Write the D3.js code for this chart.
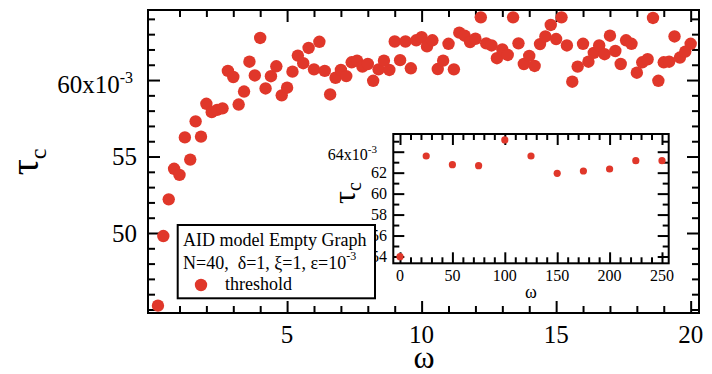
<!DOCTYPE html>
<html><head><meta charset="utf-8">
<script src="https://cdn.jsdelivr.net/npm/d3@7"></script>
<style>
body{margin:0;background:#fff}
svg{display:block}
text{font-family:"Liberation Serif","Times New Roman",serif;fill:#000}
</style>
</head><body>
<svg id="chart" width="712" height="374"></svg>
<script>
// ---- main series: omega vs tau_c (values in units of 1e-3) ----
const omega = [0.2,0.4,0.6,0.8,1.0,1.2,1.4,1.6,1.8,2.0,2.2,2.4,2.6,2.8,3.0,3.2,3.4,3.6,3.8,4.0,
  4.2,4.4,4.6,4.8,5.0,5.2,5.4,5.6,5.8,6.0,6.2,6.4,6.6,6.8,7.0,7.2,7.4,7.6,7.8,8.0,
  8.2,8.4,8.6,8.8,9.0,9.2,9.4,9.6,9.8,10.0,10.2,10.4,10.6,10.8,11.0,11.2,11.4,11.6,11.8,12.0,
  12.2,12.4,12.6,12.8,13.0,13.2,13.4,13.6,13.8,14.0,14.2,14.4,14.6,14.8,15.0,15.2,15.4,15.6,15.8,16.0,
  16.2,16.4,16.6,16.8,17.0,17.2,17.4,17.6,17.8,18.0,18.2,18.4,18.6,18.8,19.0,19.2,19.4,19.6,19.8,20.0];
const tau = [45.25,49.8,52.2,54.2,53.8,56.25,54.8,57.3,56.3,58.45,57.9,58.05,58.15,60.6,60.2,58.4,59.25,61.2,60.3,62.75,
  59.45,60.25,60.9,59.0,59.5,60.55,61.6,61.1,62.1,60.7,62.5,60.6,59.06,60.15,60.66,60.26,61.16,61.27,60.88,61.05,
  59.95,60.7,61.27,60.66,62.52,61.3,62.52,60.77,62.6,62.8,62.2,62.6,60.72,61.27,62.37,60.7,63.1,62.9,62.48,62.7,
  64.1,62.4,62.26,61.43,62.0,61.64,64.1,62.4,61.05,61.58,60.92,62.35,62.85,63.6,62.68,64.1,62.26,59.89,60.88,62.37,
  61.2,61.78,62.26,61.69,62.9,61.9,61.05,62.6,62.37,60.48,61.16,61.36,64.06,59.95,61.16,61.2,62.85,61.47,61.86,62.37];

// ---- inset series ----
const insetOmega = [0,25,50,75,100,125,150,175,200,225,250];
const insetTau = [53.98,63.59,62.76,62.67,65.12,63.59,61.94,62.16,62.35,63.14,63.14];

// ---- ticks ----
const mainXMajor = [5,10,15,20];
const mainXMinor = [1,2,3,4,6,7,8,9,11,12,13,14,16,17,18,19];
const mainXLabels = ["5","10","15","20"];
const mainYMajor = [50,55,60];
const mainYMinor = [45,46,47,48,49,51,52,53,54,56,57,58,59,61,62,63,64];
const mainYLabels = ["50","55","60x10"];
const insetXMajor = [0,50,100,150,200,250];
const insetXMinor = [10,20,30,40,60,70,80,90,110,120,130,140,160,170,180,190,210,220,230,240];
const insetXLabels = ["0","50","100","150","200","250"];
const insetYMajor = [54,56,58,60,62,64];
const insetYMinor = [55,57,59,61,63,65];
const insetYLabels = ["54","56","58","60","62","64x10"];

const legendLines = ["AID model Empty Graph", "N=40,  \u03b4=1, \u03be=1, \u03b5=10"];
const seriesName = "threshold";
const red = "#e0372a";

const svg = d3.select("#chart");

// ---- main scales ----
const L = 148, R = 699, T = 10, B = 313;
const x = d3.scaleLinear().domain([-0.17, 20.31]).range([L, R]);
const y = d3.scaleLinear().domain([44.77, 64.58]).range([B, T]);

function drawTicks(g, xs, ys, xMaj, xMin, yMaj, yMin, l, r, t, b, majLen, minLen) {
  const mk = (axisFn, scale, vals, len, tr) => {
    g.append("g").attr("transform", tr)
      .call(axisFn(scale).tickValues(vals).tickSize(len).tickFormat(""))
      .call(s => s.select(".domain").remove())
      .call(s => s.selectAll("line").attr("stroke", "#000").attr("stroke-width", 2));
  };
  mk(d3.axisBottom, xs, xMaj, -majLen, `translate(0,${b})`);
  mk(d3.axisBottom, xs, xMin, -minLen, `translate(0,${b})`);
  mk(d3.axisTop, xs, xMaj, -majLen, `translate(0,${t})`);
  mk(d3.axisTop, xs, xMin, -minLen, `translate(0,${t})`);
  mk(d3.axisLeft, ys, yMaj, -majLen, `translate(${l},0)`);
  mk(d3.axisLeft, ys, yMin, -minLen, `translate(${l},0)`);
  mk(d3.axisRight, ys, yMaj, -majLen, `translate(${r},0)`);
  mk(d3.axisRight, ys, yMin, -minLen, `translate(${r},0)`);
}

const main = svg.append("g");
drawTicks(main, x, y, mainXMajor, mainXMinor, mainYMajor, mainYMinor, L, R, T, B, 12, 7);
main.append("rect").attr("x", L).attr("y", T).attr("width", R - L).attr("height", B - T)
  .attr("fill", "none").attr("stroke", "#000").attr("stroke-width", 2);

// main points
main.append("g").selectAll("circle").data(omega).join("circle")
  .attr("cx", d => x(d)).attr("cy", (d, i) => y(tau[i])).attr("r", 6.2).attr("fill", red);

// main x tick labels
main.append("g").selectAll("text").data(mainXMajor).join("text")
  .attr("x", d => x(d)).attr("y", 343).attr("text-anchor", "middle")
  .attr("font-size", 25).text((d, i) => mainXLabels[i]);
// main y tick labels
const myl = main.append("g").selectAll("text").data(mainYMajor).join("text")
  .attr("x", 137).attr("y", d => y(d) + 8.5).attr("text-anchor", "end").attr("font-size", 25);
myl.each(function(d, i) {
  const t = d3.select(this);
  t.append("tspan").text(mainYLabels[i]);
  if (i === mainYLabels.length - 1) {
    t.attr("x", 133).attr("y", y(d) + 13);
    t.append("tspan").attr("dy", -10).attr("font-size", 16).text("-3");
  }
});

// axis titles
main.append("text").attr("x", 424).attr("y", 368).attr("text-anchor", "middle")
  .attr("font-size", 32).text("\u03c9");
const yt = main.append("text").attr("transform", "translate(38,162) rotate(-90)")
  .attr("text-anchor", "middle").attr("font-size", 40);
yt.append("tspan").text("\u03c4");
yt.append("tspan").attr("dy", 8).attr("font-size", 24).text("c");

// ---- inset ----
const iL = 393.3, iR = 668.7, iT = 134, iB = 263.3;
const xi = d3.scaleLinear().domain([-6.4, 256.4]).range([iL, iR]);
const yi = d3.scaleLinear().domain([53.35, 65.69]).range([iB, iT]);
const inset = svg.append("g");
inset.append("rect").attr("x", iL).attr("y", iT).attr("width", iR - iL).attr("height", iB - iT)
  .attr("fill", "#fff");
drawTicks(inset, xi, yi, insetXMajor, insetXMinor, insetYMajor, insetYMinor, iL, iR, iT, iB, 11, 6);
inset.append("rect").attr("x", iL).attr("y", iT).attr("width", iR - iL).attr("height", iB - iT)
  .attr("fill", "none").attr("stroke", "#000").attr("stroke-width", 2);
inset.append("g").selectAll("circle").data(insetOmega).join("circle")
  .attr("cx", d => xi(d)).attr("cy", (d, i) => yi(insetTau[i])).attr("r", 3.6).attr("fill", red);
inset.append("g").selectAll("text").data(insetXMajor).join("text")
  .attr("x", d => xi(d)).attr("y", 281).attr("text-anchor", "middle")
  .attr("font-size", 16).text((d, i) => insetXLabels[i]);
const iyl = inset.append("g").selectAll("text").data(insetYMajor).join("text")
  .attr("x", 387).attr("y", d => yi(d) + 5.5).attr("text-anchor", "end").attr("font-size", 16);
iyl.each(function(d, i) {
  const t = d3.select(this);
  t.append("tspan").text(insetYLabels[i]);
  if (i === insetYLabels.length - 1) {
    t.attr("x", 377).attr("y", yi(d) + 8);
    t.append("tspan").attr("dy", -7).attr("font-size", 11).text("-3");
  }
});
inset.append("text").attr("x", 531).attr("y", 298).attr("text-anchor", "middle")
  .attr("font-size", 18).text("\u03c9");
const iyt = inset.append("text").attr("transform", "translate(355,193) rotate(-90)")
  .attr("text-anchor", "middle").attr("font-size", 32);
iyt.append("tspan").text("\u03c4");
iyt.append("tspan").attr("dy", 6).attr("font-size", 20).text("c");

// ---- legend ----
const lg = svg.append("g");
lg.append("rect").attr("x", 177.7).attr("y", 225).attr("width", 197.3).attr("height", 73.3)
  .attr("fill", "#fff").attr("stroke", "#000").attr("stroke-width", 2);
lg.append("text").attr("x", 183).attr("y", 246).attr("font-size", 18).text(legendLines[0]);
const l2 = lg.append("text").attr("x", 183).attr("y", 269).attr("font-size", 18)
  .style("white-space", "pre").attr("xml:space", "preserve");
l2.append("tspan").text(legendLines[1]);
l2.append("tspan").attr("dy", -9).attr("font-size", 12).text("-3");
lg.append("circle").attr("cx", 201).attr("cy", 285).attr("r", 6.2).attr("fill", red);
lg.append("text").attr("x", 225).attr("y", 290).attr("font-size", 18).text(seriesName);
</script>
</body></html>
